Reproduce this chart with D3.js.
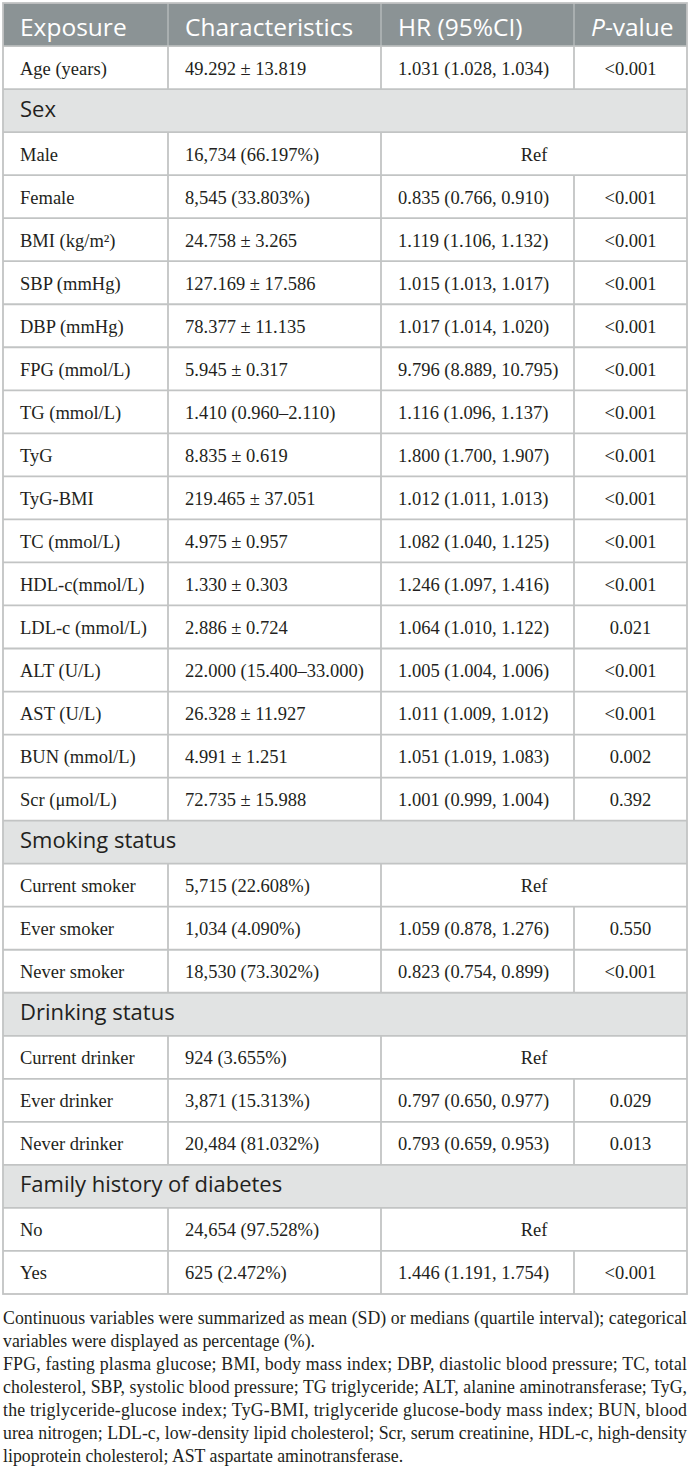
<!DOCTYPE html>
<html>
<head>
<meta charset="utf-8">
<script src="https://cdn.jsdelivr.net/npm/d3@7"></script>
<style>
  body { margin: 0; background: #fff; }
</style>
</head>
<body>
<svg id="table_svg" width="690" height="1473"></svg>
<script>
// table content, one entry per body row (null characteristic = section row)
const headers = ["Exposure", "Characteristics", "HR (95%CI)", "P-value"];
const exposures = ["Age (years)", "Sex", "Male", "Female", "BMI (kg/m²)", "SBP (mmHg)", "DBP (mmHg)",
    "FPG (mmol/L)", "TG (mmol/L)", "TyG", "TyG-BMI", "TC (mmol/L)", "HDL-c(mmol/L)", "LDL-c (mmol/L)",
    "ALT (U/L)", "AST (U/L)", "BUN (mmol/L)", "Scr (μmol/L)", "Smoking status", "Current smoker",
    "Ever smoker", "Never smoker", "Drinking status", "Current drinker", "Ever drinker", "Never drinker",
    "Family history of diabetes", "No", "Yes"];
const characteristics = ["49.292 ± 13.819", null, "16,734 (66.197%)", "8,545 (33.803%)", "24.758 ± 3.265",
    "127.169 ± 17.586", "78.377 ± 11.135", "5.945 ± 0.317", "1.410 (0.960–2.110)", "8.835 ± 0.619",
    "219.465 ± 37.051", "4.975 ± 0.957", "1.330 ± 0.303", "2.886 ± 0.724", "22.000 (15.400–33.000)",
    "26.328 ± 11.927", "4.991 ± 1.251", "72.735 ± 15.988", null, "5,715 (22.608%)", "1,034 (4.090%)",
    "18,530 (73.302%)", null, "924 (3.655%)", "3,871 (15.313%)", "20,484 (81.032%)", null,
    "24,654 (97.528%)", "625 (2.472%)"];
const hrValues = ["1.031 (1.028, 1.034)", null, "Ref", "0.835 (0.766, 0.910)", "1.119 (1.106, 1.132)",
    "1.015 (1.013, 1.017)", "1.017 (1.014, 1.020)", "9.796 (8.889, 10.795)", "1.116 (1.096, 1.137)",
    "1.800 (1.700, 1.907)", "1.012 (1.011, 1.013)", "1.082 (1.040, 1.125)", "1.246 (1.097, 1.416)",
    "1.064 (1.010, 1.122)", "1.005 (1.004, 1.006)", "1.011 (1.009, 1.012)", "1.051 (1.019, 1.083)",
    "1.001 (0.999, 1.004)", null, "Ref", "1.059 (0.878, 1.276)", "0.823 (0.754, 0.899)", null, "Ref",
    "0.797 (0.650, 0.977)", "0.793 (0.659, 0.953)", null, "Ref", "1.446 (1.191, 1.754)"];
const pValues = ["<0.001", null, null, "<0.001", "<0.001", "<0.001", "<0.001", "<0.001", "<0.001",
    "<0.001", "<0.001", "<0.001", "<0.001", "0.021", "<0.001", "<0.001", "0.002", "0.392", null, null,
    "0.550", "<0.001", null, null, "0.029", "0.013", null, null, "<0.001"];
// footnote lines; last line of each paragraph is not justified
const footnoteLines = [
    "Continuous variables were summarized as mean (SD) or medians (quartile interval); categorical",
    "variables were displayed as percentage (%).",
    "FPG, fasting plasma glucose; BMI, body mass index; DBP, diastolic blood pressure; TC, total",
    "cholesterol, SBP, systolic blood pressure; TG triglyceride; ALT, alanine aminotransferase; TyG,",
    "the triglyceride-glucose index; TyG-BMI, triglyceride glucose-body mass index; BUN, blood",
    "urea nitrogen; LDL-c, low-density lipid cholesterol; Scr, serum creatinine, HDL-c, high-density",
    "lipoprotein cholesterol; AST aspartate aminotransferase."];
const paragraphEnds = [1, 6];

document.addEventListener('DOMContentLoaded', function () {
    const svg = d3.select("#table_svg");
    const left = 3, right = 687;
    const colEdges = [3, 168, 381, 574, 687];
    const pad = 17;
    const borderColor = "#c2c4c4";
    const serif = "'Liberation Serif', 'DejaVu Serif', serif";
    const sans = "'Open Sans', 'Noto Sans', sans-serif";

    const rows = exposures.map((e, i) => ({
        exposure: e,
        chr: characteristics[i],
        hr: hrValues[i],
        p: pValues[i],
        type: characteristics[i] === null ? "section" : (hrValues[i] === "Ref" ? "ref" : "data")
    }));

    const yScale = d3.scaleBand()
        .domain(d3.range(rows.length + 1))
        .range([3, 1294])
        .padding(0);
    const bh = yScale.bandwidth();

    // header
    const head = svg.append("g");
    head.append("rect")
        .attr("x", left).attr("y", yScale(0))
        .attr("width", right - left).attr("height", bh)
        .attr("fill", "#8b9395");
    head.selectAll("line")
        .data(colEdges.slice(1, 4))
        .join("line")
        .attr("x1", d => d).attr("x2", d => d)
        .attr("y1", yScale(0)).attr("y2", yScale(0) + bh)
        .attr("stroke", "#b3b8ba").attr("stroke-width", 1.5);
    const headText = head.selectAll("text")
        .data(headers)
        .join("text")
        .attr("x", (d, i) => colEdges[i] + pad)
        .attr("y", yScale(0) + bh / 2)
        .attr("dy", "0.46em")
        .attr("fill", "#fff")
        .style("font-family", sans)
        .style("font-size", "24.5px");
    headText.filter((d, i) => i < 3).text(d => d);
    headText.filter((d, i) => i === 3).each(function (d) {
        const t = d3.select(this);
        t.append("tspan").style("font-style", "italic").text(d.split("-")[0]);
        t.append("tspan").text("-" + d.split("-")[1]);
    });

    // body rows
    const body = svg.append("g");
    const rg = body.selectAll("g.row")
        .data(rows)
        .join("g")
        .attr("class", "row")
        .attr("transform", (d, i) => `translate(0,${yScale(i + 1)})`);

    rg.filter(d => d.type === "section").append("rect")
        .attr("x", left).attr("width", right - left).attr("height", bh)
        .attr("fill", "#e1e3e3");

    // vertical separators
    rg.each(function (d) {
        const edges = d.type === "section" ? [] : d.type === "ref" ? colEdges.slice(1, 3) : colEdges.slice(1, 4);
        d3.select(this).selectAll("line.v")
            .data(edges)
            .join("line")
            .attr("class", "v")
            .attr("x1", e => e).attr("x2", e => e)
            .attr("y1", 0).attr("y2", bh)
            .attr("stroke", borderColor).attr("stroke-width", 1.8);
    });

    // horizontal separators
    body.selectAll("line.h")
        .data(d3.range(1, rows.length + 1))
        .join("line")
        .attr("class", "h")
        .attr("x1", left).attr("x2", right)
        .attr("y1", d => yScale(d)).attr("y2", d => yScale(d))
        .attr("stroke", borderColor).attr("stroke-width", 1.8);

    // outer border
    svg.append("rect")
        .attr("x", left).attr("y", yScale(0))
        .attr("width", right - left).attr("height", yScale(rows.length) + bh - yScale(0))
        .attr("fill", "none")
        .attr("stroke", borderColor).attr("stroke-width", 1.8);

    // section labels
    rg.filter(d => d.type === "section").append("text")
        .attr("x", colEdges[0] + pad)
        .attr("y", bh / 2)
        .attr("dy", "0.27em")
        .attr("fill", "#231f20")
        .style("font-family", sans)
        .style("font-size", "22px")
        .text(d => d.exposure);

    const cell = (sel, x, anchor, key) => sel.append("text")
        .attr("x", x)
        .attr("y", bh / 2)
        .attr("dy", "0.38em")
        .attr("text-anchor", anchor)
        .attr("fill", "#231f20")
        .style("font-family", serif)
        .style("font-size", "18.5px")
        .text(key);

    const nonSection = rg.filter(d => d.type !== "section");
    cell(nonSection, colEdges[0] + pad, "start", d => d.exposure);
    cell(nonSection, colEdges[1] + pad, "start", d => d.chr);
    cell(rg.filter(d => d.type === "data"), colEdges[2] + pad, "start", d => d.hr);
    cell(rg.filter(d => d.type === "data"), (colEdges[3] + colEdges[4]) / 2, "middle", d => d.p);
    cell(rg.filter(d => d.type === "ref"), (colEdges[2] + colEdges[4]) / 2, "middle", d => d.hr);

    // footnotes
    const noteY = d3.scaleLinear().domain([0, 1]).range([1324, 1347]);
    svg.append("g").selectAll("text")
        .data(footnoteLines)
        .join("text")
        .attr("x", left)
        .attr("y", (d, i) => noteY(i))
        .attr("fill", "#231f20")
        .style("font-family", serif)
        .style("font-size", "17.8px")
        .each(function (d, i) {
            if (!paragraphEnds.includes(i)) {
                d3.select(this).attr("textLength", right - left).attr("lengthAdjust", "spacing");
            }
        })
        .text(d => d);
});
</script>
</body>
</html>
